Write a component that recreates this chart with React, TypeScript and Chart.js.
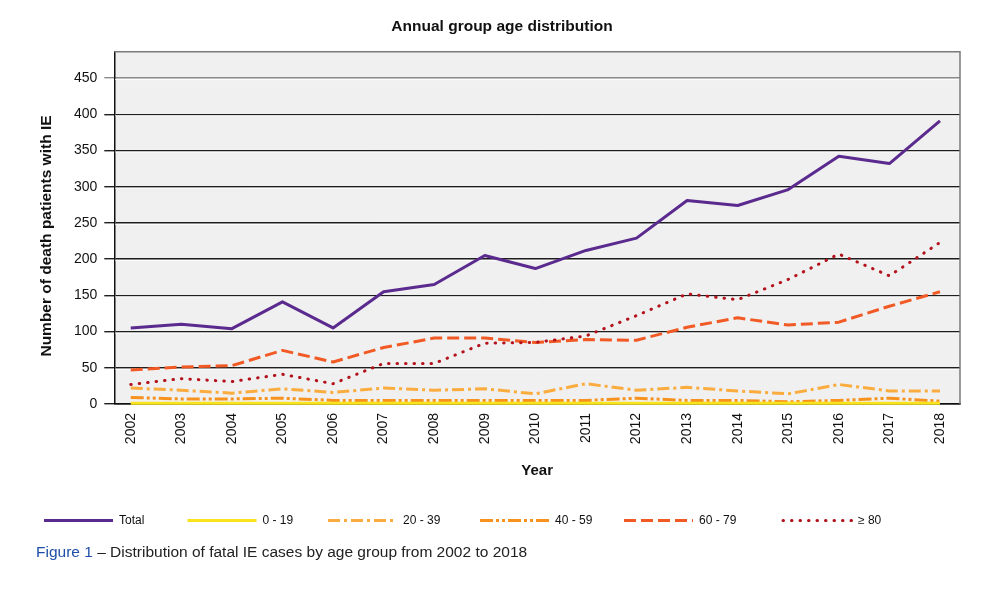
import React, { useEffect, useRef } from "react";
import { Chart, registerables } from "chart.js";

Chart.register(...registerables);

const years = [2002, 2003, 2004, 2005, 2006, 2007, 2008, 2009, 2010, 2011, 2012, 2013, 2014, 2015, 2016, 2017, 2018];
const total = [105, 110, 104, 141, 105, 155, 165, 205, 187, 212, 229, 281, 274, 296, 342, 332, 391];
const age0to19 = [1, 1, 1, 1, 1, 1, 1, 1, 1, 1, 1, 1, 1, 1, 1, 1, 1];
const age20to39 = [22, 19, 15, 21, 16, 22, 19, 21, 14, 28, 19, 23, 18, 14, 27, 18, 18];
const age40to59 = [9, 7, 7, 8, 5, 5, 5, 5, 5, 5, 8, 5, 5, 3, 5, 8, 4];
const age60to79 = [47, 51, 53, 74, 58, 78, 91, 91, 85, 89, 88, 106, 119, 109, 113, 135, 155];
const age80plus = [27, 35, 31, 41, 28, 56, 56, 84, 85, 94, 122, 152, 144, 172, 207, 177, 223];
const yTicks = [0, 50, 100, 150, 200, 250, 300, 350, 400, 450];

const chartTitle = "Annual group age distribution";
const yTitle = "Number of death patients with IE";
const xTitle = "Year";
const captionLead = "Figure 1";
const captionRest = " \u2013 Distribution of fatal IE cases by age group from 2002 to 2018";

const FONT = "'Liberation Sans', Arial, sans-serif";

const seriesDefs = [
  { label: "Total", values: total, color: "#5b2a8e", dash: [] as number[], cap: "butt", order: 0 },
  { label: "0 - 19", values: age0to19, color: "#f8e31c", dash: [] as number[], cap: "butt", order: -1 },
  { label: "20 - 39", values: age20to39, color: "#fbac3e", dash: [12, 4, 3, 4], cap: "butt", order: 4 },
  { label: "40 - 59", values: age40to59, color: "#f7921e", dash: [13, 3, 3, 3, 3, 3], cap: "butt", order: 5 },
  { label: "60 - 79", values: age60to79, color: "#f15a24", dash: [12, 5], cap: "butt", order: 2 },
  { label: "\u2265 80", values: age80plus, color: "#b3121c", dash: [0.5, 8], cap: "round", order: 1 },
];

const legendX = [44, 187.5, 328, 480, 624, 783];

export default function App() {
  const ref = useRef<HTMLCanvasElement | null>(null);

  useEffect(() => {
    document.body.style.margin = "0";
    const canvas = ref.current;
    if (!canvas) return;

    const decor = {
      id: "decor",
      beforeDraw(chart: any) {
        const { ctx, chartArea: a } = chart;
        ctx.save();
        ctx.fillStyle = "#ffffff";
        ctx.fillRect(0, 0, chart.width, chart.height);
        ctx.fillStyle = "#f0f0f0";
        ctx.fillRect(a.left, a.top, a.right - a.left, a.bottom - a.top);
        ctx.restore();
      },
      beforeDatasetsDraw(chart: any) {
        const { ctx, chartArea: a, scales } = chart;
        const y = scales.y;
        ctx.save();
        ctx.strokeStyle = "#ffffff";
        ctx.lineWidth = 1;
        yTicks.forEach((v) => {
          if (v === 0) return;
          const py = y.getPixelForValue(v) + 1.5;
          ctx.beginPath();
          ctx.moveTo(a.left + 1, py);
          ctx.lineTo(a.right, py);
          ctx.stroke();
        });
        ctx.strokeStyle = "#7a7a7a";
        ctx.lineWidth = 1.5;
        ctx.beginPath();
        ctx.moveTo(a.left, a.top);
        ctx.lineTo(a.right, a.top);
        ctx.lineTo(a.right, a.bottom);
        ctx.stroke();
        ctx.restore();
      },
      afterDraw(chart: any) {
        const { ctx } = chart;
        ctx.save();
        ctx.fillStyle = "#111111";
        ctx.font = `bold 15.5px ${FONT}`;
        ctx.textAlign = "center";
        ctx.textBaseline = "middle";
        ctx.fillText(chartTitle, 502, 27);
        ctx.save();
        ctx.translate(47, 236);
        ctx.rotate(-Math.PI / 2);
        ctx.font = `bold 15.5px ${FONT}`;
        ctx.fillText(yTitle, 0, 0);
        ctx.restore();
        ctx.font = `12px ${FONT}`;
        ctx.textAlign = "left";
        seriesDefs.forEach((s, i) => {
          const x0 = legendX[i];
          const yy = 520.5;
          ctx.strokeStyle = s.color;
          ctx.lineWidth = 3;
          ctx.lineCap = s.cap as CanvasLineCap;
          ctx.setLineDash(s.dash);
          ctx.beginPath();
          ctx.moveTo(x0, yy);
          ctx.lineTo(x0 + 69, yy);
          ctx.stroke();
          ctx.setLineDash([]);
          ctx.fillStyle = "#111111";
          ctx.fillText(s.label, x0 + 75, yy);
        });
        ctx.font = `15.5px ${FONT}`;
        ctx.fillStyle = "#1f4fa8";
        ctx.fillText(captionLead, 36, 553);
        const w = ctx.measureText(captionLead).width;
        ctx.fillStyle = "#222222";
        ctx.fillText(captionRest, 36 + w, 553);
        ctx.restore();
      },
    };

    const chart = new Chart(canvas, {
      type: "line",
      data: {
        datasets: seriesDefs.map((s) => ({
          label: s.label,
          data: years.map((yr, i) => ({ x: yr, y: s.values[i] })),
          borderColor: s.color,
          backgroundColor: s.color,
          borderWidth: 3,
          borderDash: s.dash,
          borderCapStyle: s.cap as CanvasLineCap,
          borderJoinStyle: "round" as CanvasLineJoin,
          pointRadius: 0,
          tension: 0,
          fill: false,
          order: s.order,
          clip: false as any,
        })),
      },
      options: {
        animation: false,
        responsive: false,
        devicePixelRatio: 1,
        layout: { padding: { left: 0, top: 51.7, right: 40, bottom: 109 } },
        plugins: {
          legend: { display: false },
          tooltip: { enabled: false },
          title: { display: false },
        },
        scales: {
          x: {
            type: "linear",
            min: 2001.675,
            max: 2018.396,
            afterBuildTicks: (axis: any) => {
              axis.ticks = years.map((v) => ({ value: v }));
            },
            afterFit: (scale: any) => {
              scale.height = 80;
            },
            grid: { display: false, drawTicks: false },
            border: { display: true, color: "#111111", width: 1.5 },
            ticks: {
              autoSkip: false,
              minRotation: 90,
              maxRotation: 90,
              padding: 9,
              color: "#111111",
              font: { family: FONT, size: 14 },
              callback: (v: any) => String(v),
            },
            title: {
              display: true,
              text: xTitle,
              color: "#111111",
              font: { family: FONT, size: 15, weight: "bold" },
              padding: { top: 0, bottom: 4 },
            },
          },
          y: {
            min: 0,
            max: 486.4,
            afterBuildTicks: (axis: any) => {
              axis.ticks = yTicks.map((v) => ({ value: v }));
            },
            afterFit: (scale: any) => {
              scale.width = 114.3;
            },
            grid: {
              color: (c: any) => (c.tick && c.tick.value === 450 ? "#8c8c8c" : "#1e1e1e"),
              tickColor: (c: any) => (c.tick && c.tick.value === 450 ? "#8c8c8c" : "#1e1e1e"),
              lineWidth: 1.4,
              tickLength: 10,
              drawTicks: true,
            },
            border: { display: true, color: "#111111", width: 1.5 },
            ticks: {
              padding: 7,
              color: "#111111",
              font: { family: FONT, size: 14 },
              callback: (v: any) => String(v),
            },
            title: { display: false },
          },
        },
      },
      plugins: [decor],
    });

    return () => chart.destroy();
  }, []);

  return (
    <div style={{ width: 1000, height: 593, position: "relative" }}>
      <canvas ref={ref} width={1000} height={593} style={{ display: "block", width: 1000, height: 593 }} />
    </div>
  );
}
